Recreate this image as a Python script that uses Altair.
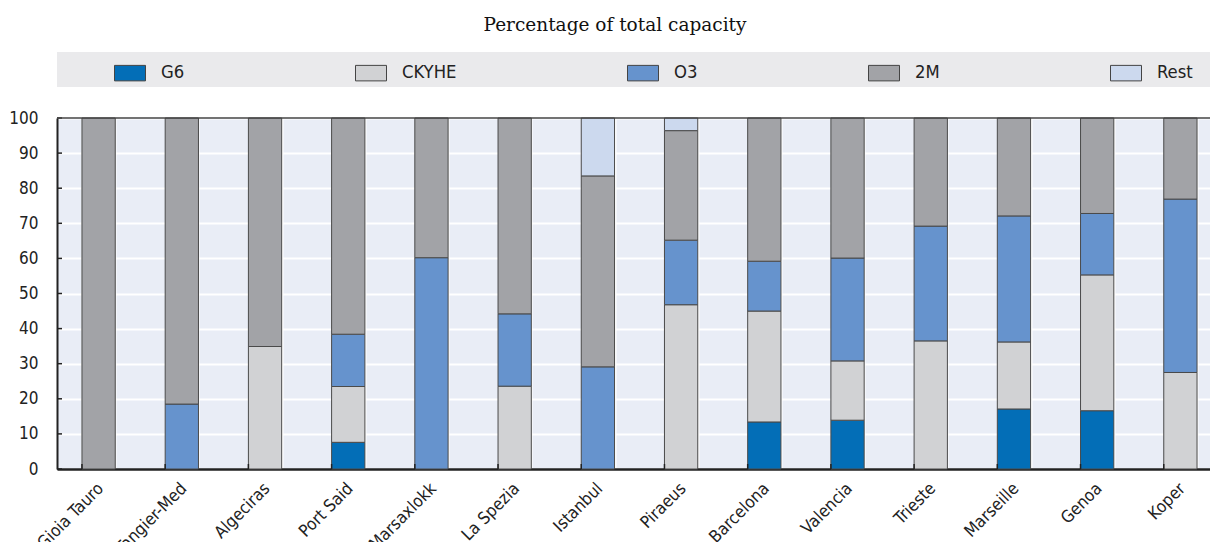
import altair as alt
import pandas as pd

# Ports, left to right
ports = ["Gioia Tauro", "Tangier-Med", "Algeciras", "Port Said", "Marsaxlokk",
         "La Spezia", "Istanbul", "Piraeus", "Barcelona", "Valencia",
         "Trieste", "Marseille", "Genoa", "Koper"]

# Alliance shares of capacity (%) per port, stacked bottom to top
alliances = ["G6", "CKYHE", "O3", "2M", "Rest"]
g6 = [0, 0, 0, 7.6, 0, 0, 0, 0, 13.4, 13.9, 0, 17.1, 16.6, 0]
ckyhe = [0, 0, 34.9, 15.9, 0, 23.6, 0, 46.8, 31.6, 16.9, 36.5, 19.1, 38.7, 27.5]
o3 = [0, 18.5, 0, 14.9, 60.2, 20.6, 29.1, 18.4, 14.2, 29.3, 32.7, 35.9, 17.5, 49.4]
m2 = [100, 81.5, 65.1, 61.6, 39.8, 55.8, 54.4, 31.2, 40.8, 39.9, 30.8, 27.9, 27.2, 23.1]
rest = [0, 0, 0, 0, 0, 0, 16.5, 3.6, 0, 0, 0, 0, 0, 0]

colors = ["#036eb7", "#d1d2d4", "#6693cd", "#a2a3a7", "#ccd9ee"]
y_ticks = list(range(0, 101, 10))

rows = []
for idx, (name, vals) in enumerate(zip(alliances, [g6, ckyhe, o3, m2, rest])):
    for port, v in zip(ports, vals):
        if v > 0:
            rows.append({"port": port, "alliance": name, "order": idx, "share": v})
df = pd.DataFrame(rows)
ports_df = pd.DataFrame({"port": ports})
ticks_df = pd.DataFrame({"tick": y_ticks})

W = 1153       # visible plot width
H = 351        # plot height
BAND_SPAN = 1165
FONT = "DejaVu Sans Condensed"
INK = "#222222"

x_scale = alt.Scale(range=[0, BAND_SPAN], paddingInner=0.6, paddingOuter=0.3)
y_scale = alt.Scale(domain=[0, 100], nice=False)

x_axis = alt.Axis(
    title=None, labelAngle=-45, labelAlign="right", labelBaseline="top",
    labelPadding=11, labelOffset=-4, labelFont=FONT, labelFontSize=17,
    labelColor=INK, ticks=False, tickSize=0, tickBand="extent",
    grid=True, gridColor="white", gridWidth=2, labelOverlap=False,
    domainColor=INK, domainWidth=2.5,
)
y_axis = alt.Axis(
    title=None, values=y_ticks, labelFont=FONT, labelFontSize=17,
    labelColor=INK, labelPadding=19, ticks=False, tickSize=0,
    grid=True, gridColor="white", gridWidth=2, labelOverlap=False,
    domainColor=INK, domainWidth=2,
)

# Grey band behind the legend
legend_band = alt.Chart(alt.Data(values=[{}])).mark_rect(color="#eaeaec").encode(
    x=alt.value(0), x2=alt.value(W + 20), y=alt.value(-66), y2=alt.value(-31)
)

# Subtitle
subtitle = alt.Chart(alt.Data(values=[{}])).mark_text(
    text="Percentage of total capacity", font="DejaVu Serif", fontSize=18.5,
    color="#111111", align="center", baseline="alphabetic"
).encode(x=alt.value(558), y=alt.value(-87.5))

bars = alt.Chart(df).mark_bar(stroke="#4a4a4a", strokeWidth=1).encode(
    x=alt.X("port:N", sort=ports, scale=x_scale, axis=x_axis),
    y=alt.Y("share:Q", stack="zero", scale=y_scale, axis=y_axis),
    color=alt.Color(
        "alliance:N",
        scale=alt.Scale(domain=alliances, range=colors),
        legend=alt.Legend(
            title=None, orient="none", legendX=57, legendY=-61,
            direction="horizontal", columns=5, gridAlign="each",
            columnPadding=168, padding=0,
            symbolType="M-1,-0.5H1V0.5H-1Z", symbolSize=961,
            symbolStrokeColor="#444444", symbolStrokeWidth=1,
            labelFont=FONT, labelFontSize=18.3, labelColor=INK,
            labelOffset=15, labelLimit=200,
        ),
    ),
    order=alt.Order("order:Q", sort="ascending"),
)

# Inward tick marks on the category axis (at band boundaries)
x_ticks = alt.Chart(ports_df).mark_rule(color=INK, strokeWidth=1.5).encode(
    x=alt.X("port:N", sort=ports, scale=x_scale, bandPosition=0, axis=x_axis),
    y=alt.value(H), y2=alt.value(H - 5),
)

# Inward tick marks on the value axis
y_tick_marks = alt.Chart(ticks_df).mark_rule(color=INK, strokeWidth=1.5).encode(
    y=alt.Y("tick:Q", scale=y_scale, axis=y_axis),
    x=alt.value(0), x2=alt.value(5),
)

# Top frame line
top_line = alt.Chart(alt.Data(values=[{}])).mark_rule(color="#444444", strokeWidth=1.5).encode(
    x=alt.value(0), x2=alt.value(W + 20), y=alt.value(0)
)

chart = alt.layer(
    legend_band, subtitle, bars, x_ticks, y_tick_marks, top_line
).properties(
    width=W, height=H,
    autosize=alt.AutoSizeParams(type="none"),
    padding={"left": 57, "top": 118, "right": 0, "bottom": 73},
    background="white",
).configure_view(
    fill="#e9edf6", stroke=None
)

chart.save("out.html", embed_options={"renderer": "svg", "actions": False})
